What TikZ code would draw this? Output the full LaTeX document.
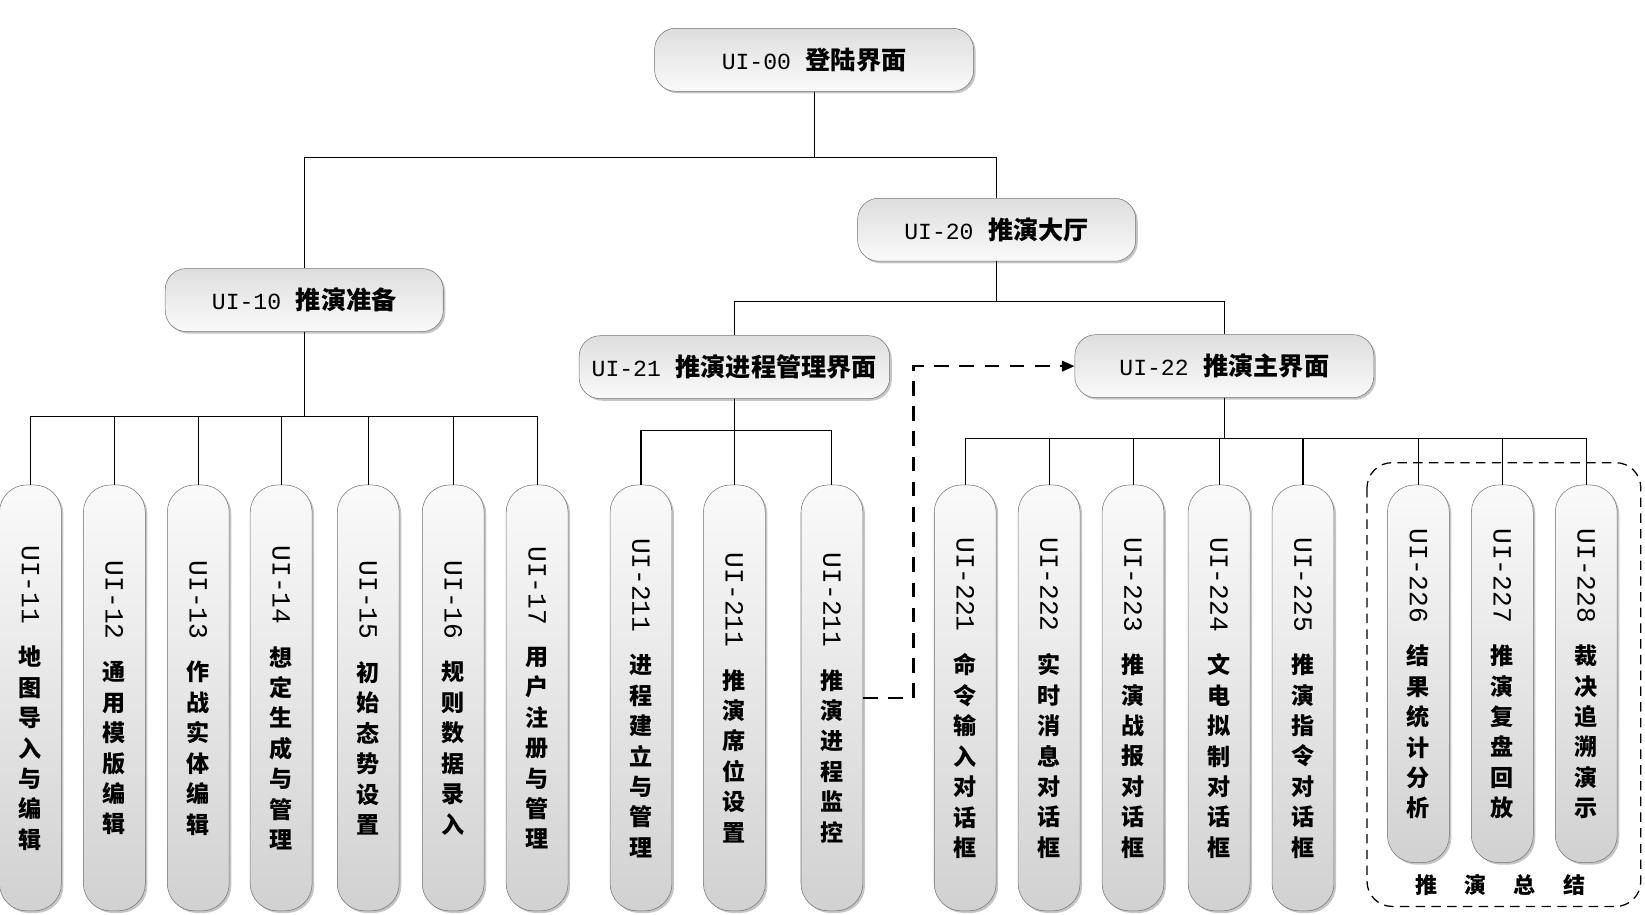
\documentclass[tikz,border=0pt]{standalone}
\usepackage{fontspec}
\setmainfont{Noto Sans CJK SC}
\newfontfamily\uifont{Liberation Mono}
\usepackage{tikz}
\usetikzlibrary{shadows,arrows.meta}

\newcommand\uitag[1]{{\fontsize{22}{24}\selectfont\uifont\mdseries #1}\hspace{14pt}}
\newcommand\leafid[1]{\rotatebox{-90}{\fontsize{25}{25}\selectfont\uifont\mdseries #1}\\[20pt]}

\tikzset{
  panel/.style={draw=black!55, line width=0.5pt, rounded corners=20pt,
    top color=black!13, bottom color=black!2,
    drop shadow={shadow xshift=2pt, shadow yshift=-2pt, fill=black!45},
    minimum height=60pt, font=\fontsize{24}{28}\selectfont\bfseries},
  leaf/.style={draw=black!55, line width=0.5pt, rounded corners=26pt,
    top color=black!2, bottom color=black!18,
    drop shadow={shadow xshift=2pt, shadow yshift=-2pt, fill=black!45},
    minimum width=59pt, minimum height=406pt, anchor=north, align=center,
    inner sep=0pt, font=\fontsize{22}{29}\selectfont\bfseries},
  shortleaf/.style={leaf, minimum height=360pt},
  link/.style={line width=1pt},
  jump/.style={line width=2.2pt, dash pattern=on 14pt off 10pt,
    -{Triangle[length=12pt,width=10pt]}},
  groupframe/.style={line width=1.2pt, dash pattern=on 9pt off 6pt,
    rounded corners=24pt}
}

\begin{document}
\begin{tikzpicture}[x=1pt, y=-1pt]
  \useasboundingbox (0,0) rectangle (1568,872);

  % upper levels
  \node[panel, minimum width=304pt] (ui00) at (776,57) {\uitag{UI-00}登陆界面};
  \node[panel, minimum width=265pt] (ui20) at (950,219) {\uitag{UI-20}推演大厅};
  \node[panel, minimum width=265pt] (ui10) at (290,286) {\uitag{UI-10}推演准备};
  \node[panel, minimum width=296pt] (ui21) at (700,350) {\uitag{UI-21}推演进程管理界面};
  \node[panel, minimum width=285pt] (ui22) at (1167,349) {\uitag{UI-22}推演主界面};

  % UI-10 leaves
  \node[leaf] (u11) at (29,462) {\leafid{UI-11}地\\图\\导\\入\\与\\编\\辑};
  \node[leaf] (u12) at (109,462) {\leafid{UI-12}通\\用\\模\\版\\编\\辑};
  \node[leaf] (u13) at (189,462) {\leafid{UI-13}作\\战\\实\\体\\编\\辑};
  \node[leaf] (u14) at (268,462) {\leafid{UI-14}想\\定\\生\\成\\与\\管\\理};
  \node[leaf] (u15) at (351,462) {\leafid{UI-15}初\\始\\态\\势\\设\\置};
  \node[leaf] (u16) at (432,462) {\leafid{UI-16}规\\则\\数\\据\\录\\入};
  \node[leaf] (u17) at (512,462) {\leafid{UI-17}用\\户\\注\\册\\与\\管\\理};

  % UI-21 leaves
  \node[leaf] (u21a) at (611,462) {\leafid{UI-211}进\\程\\建\\立\\与\\管\\理};
  \node[leaf] (u21b) at (700,462) {\leafid{UI-211}推\\演\\席\\位\\设\\置};
  \node[leaf] (u21c) at (793,462) {\leafid{UI-211}推\\演\\进\\程\\监\\控};

  % UI-22 leaves
  \node[leaf] (u221) at (920,462) {\leafid{UI-221}命\\令\\输\\入\\对\\话\\框};
  \node[leaf] (u222) at (1000,462) {\leafid{UI-222}实\\时\\消\\息\\对\\话\\框};
  \node[leaf] (u223) at (1080,462) {\leafid{UI-223}推\\演\\战\\报\\对\\话\\框};
  \node[leaf] (u224) at (1162,462) {\leafid{UI-224}文\\电\\拟\\制\\对\\话\\框};
  \node[leaf] (u225) at (1242,462) {\leafid{UI-225}推\\演\\指\\令\\对\\话\\框};
  \node[shortleaf] (u226) at (1352,462) {\leafid{UI-226}结\\果\\统\\计\\分\\析};
  \node[shortleaf] (u227) at (1432,462) {\leafid{UI-227}推\\演\\复\\盘\\回\\放};
  \node[shortleaf] (u228) at (1512,462) {\leafid{UI-228}裁\\决\\追\\溯\\演\\示};

  % tree lines
  \coordinate (b00) at (776,150);
  \draw[link] (ui00) -- (b00) -| (ui10);
  \draw[link] (b00) -| (ui20);
  \coordinate (b20) at (950,287);
  \draw[link] (ui20) -- (b20) -| (ui21);
  \draw[link] (b20) -| (ui22);
  \coordinate (b10) at (290,397);
  \draw[link] (ui10) -- (b10);
  \foreach \n in {11,...,17}
    \draw[link] (b10) -| (u\n);
  \coordinate (b21) at (700,410);
  \draw[link] (ui21) -- (b21);
  \foreach \n in {a,b,c}
    \draw[link] (b21) -| (u21\n);
  \coordinate (b22) at (1167,418);
  \draw[link] (ui22) -- (b22);
  \foreach \n in {221,...,228}
    \draw[link] (b22) -| (u\n);

  % monitor -> main screen
  \draw[jump] (u21c.east) -- ++(48,0) |- (ui22);

  % summary group
  \draw[groupframe] (1303,441) rectangle (1564,864);
  \node[font=\fontsize{21}{24}\selectfont\bfseries] (sumlabel) at (1430,844)
    {推\hspace{26pt}演\hspace{26pt}总\hspace{26pt}结};
\end{tikzpicture}
\end{document}
